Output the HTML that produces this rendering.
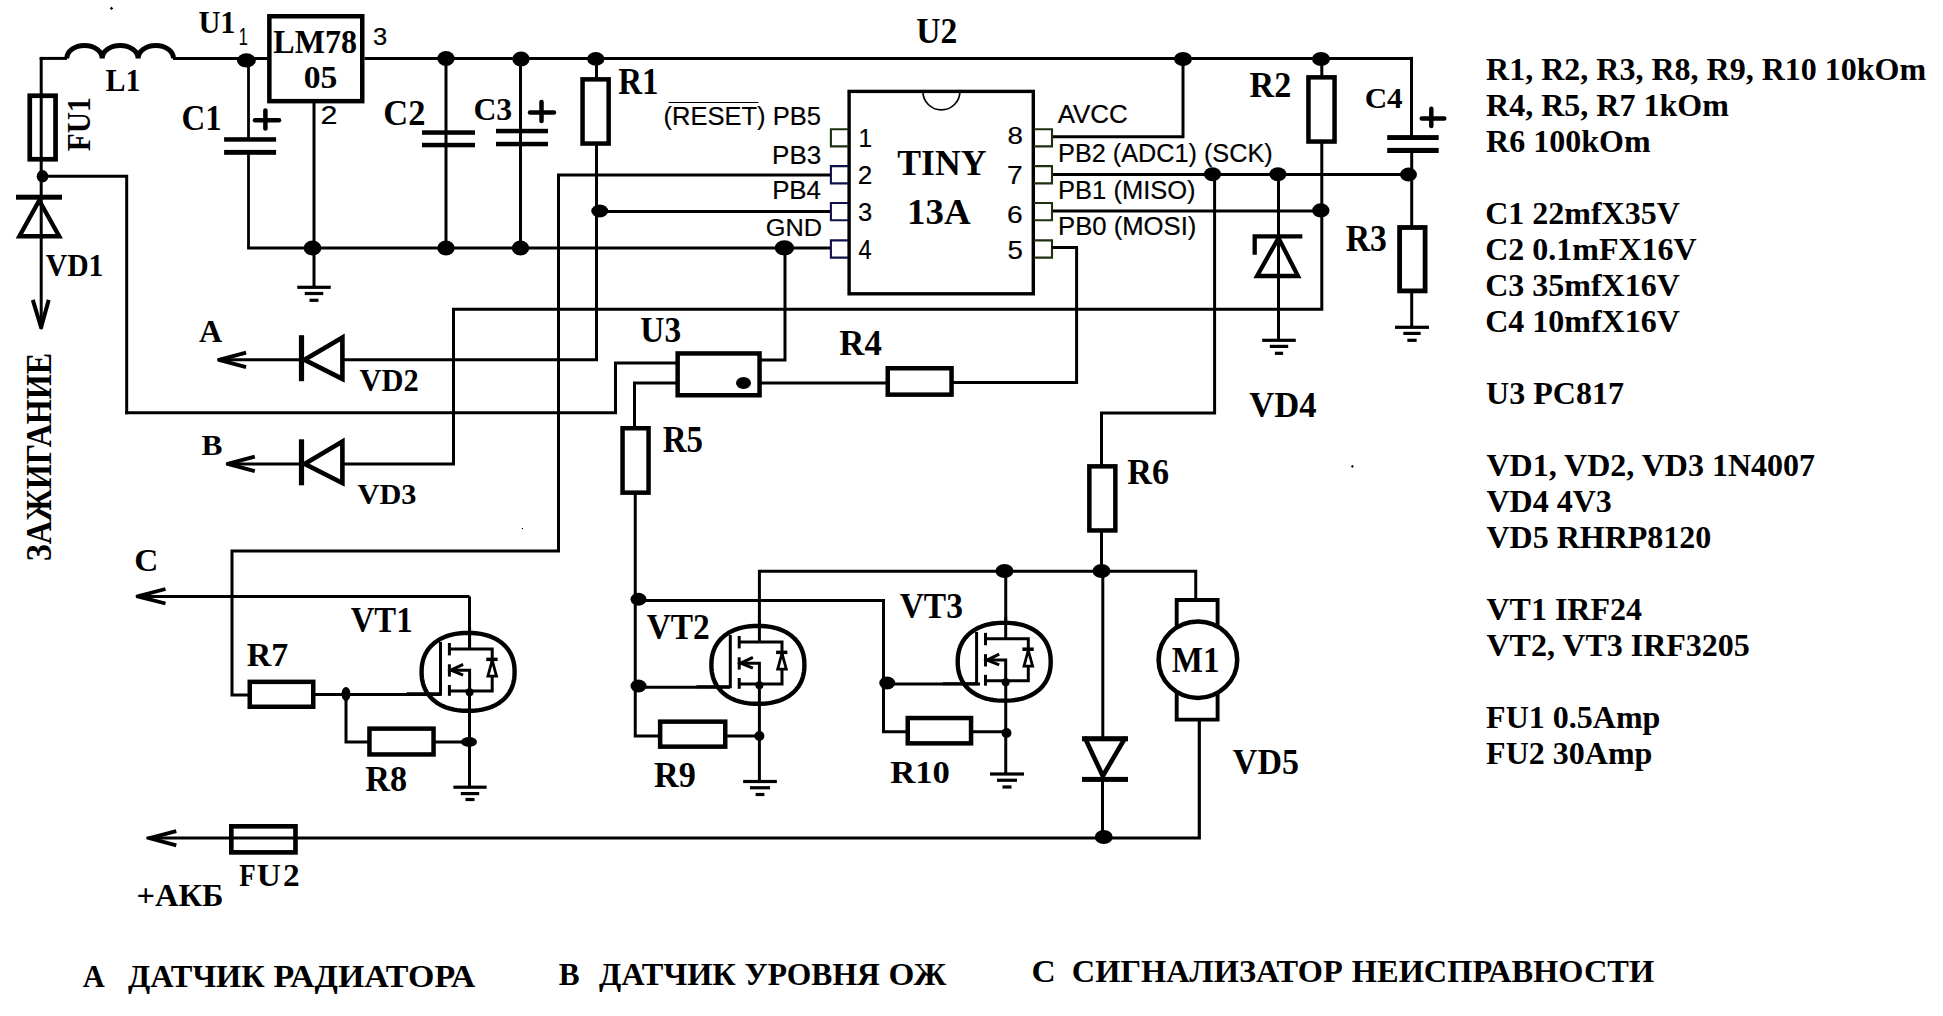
<!DOCTYPE html><html><head><meta charset='utf-8'><style>html,body{margin:0;padding:0;background:#fff;overflow:hidden}svg{display:block}</style></head><body><svg width='1943' height='1016' viewBox='0 0 1943 1016'><rect width='1943' height='1016' fill='#fff'/><line x1='41.2' y1='56.9' x2='41.2' y2='329' stroke='#000' stroke-width='3' stroke-linecap='butt'/>
<line x1='39.7' y1='58.4' x2='67' y2='58.4' stroke='#000' stroke-width='3' stroke-linecap='butt'/>
<path d='M66.75,58.4 A17.7,13 0 0 1 102.2,58.4 A17.95,13 0 0 1 138.1,58.4 A17.7,13 0 0 1 173.5,58.4' fill='none' stroke='#000' stroke-width='5'/>
<line x1='173' y1='58.4' x2='269' y2='58.4' stroke='#000' stroke-width='3' stroke-linecap='butt'/>
<rect x='29.75' y='95.75' width='25.8' height='63.499999999999986' fill='none' stroke='#000' stroke-width='4.7'/>
<ellipse cx='42.5' cy='176.3' rx='5.8' ry='6.2' fill='#000'/>
<polyline points='41,176.3 126.7,176.3 126.7,412.75' fill='none' stroke='#000' stroke-width='3' stroke-linejoin='miter' stroke-linecap='square'/>
<rect x='16' y='194.7' width='46' height='5.0' fill='#000'/>
<polygon points='39.2,200.5 19.4,236.3 59.2,236.3' fill='none' stroke='#000' stroke-width='4.4' stroke-linejoin='miter' stroke-miterlimit='10'/>
<polyline points='32.8,299.9 41.1,327.5 48.7,299.9' fill='none' stroke='#000' stroke-width='4' stroke-linejoin='round' stroke-linecap='butt'/>
<rect x='269.35' y='16.25' width='92.89999999999998' height='84.9' fill='none' stroke='#000' stroke-width='4.5'/>
<line x1='364.5' y1='58.4' x2='1411.5' y2='58.4' stroke='#000' stroke-width='3' stroke-linecap='butt'/>
<ellipse cx='246.4' cy='60.4' rx='9.4' ry='7.1' fill='#000'/>
<line x1='248.5' y1='58.4' x2='248.5' y2='139.5' stroke='#000' stroke-width='2.8' stroke-linecap='butt'/>
<rect x='224.1' y='137.2' width='52.00000000000003' height='4.5' fill='#000'/>
<rect x='224.1' y='149.9' width='52.00000000000003' height='4.900000000000006' fill='#000'/>
<line x1='248.5' y1='152' x2='248.5' y2='247.8' stroke='#000' stroke-width='2.8' stroke-linecap='butt'/>
<line x1='247.1' y1='248' x2='830' y2='248' stroke='#000' stroke-width='3' stroke-linecap='butt'/>
<line x1='255' y1='120.3' x2='279' y2='120.3' stroke='#000' stroke-width='4.5' stroke-linecap='round'/>
<line x1='265.4' y1='110.5' x2='265.4' y2='128.5' stroke='#000' stroke-width='4.5' stroke-linecap='round'/>
<line x1='314' y1='103' x2='314' y2='286.5' stroke='#000' stroke-width='3' stroke-linecap='butt'/>
<ellipse cx='312.5' cy='248' rx='8.9' ry='7.5' fill='#000'/>
<rect x='297.25' y='285.7' width='33.5' height='3.2000000000000455' fill='#000'/>
<rect x='304.75' y='291.9' width='18.5' height='3.2000000000000455' fill='#000'/>
<rect x='309.5' y='298.7' width='9.0' height='3.2000000000000455' fill='#000'/>
<ellipse cx='446' cy='58.5' rx='8.7' ry='7.5' fill='#000'/>
<line x1='446' y1='58.4' x2='446' y2='247.8' stroke='#000' stroke-width='3' stroke-linecap='butt'/>
<rect x='422' y='130.3' width='53' height='4.5' fill='#000'/>
<rect x='422' y='142.8' width='53' height='4.5' fill='#000'/>
<ellipse cx='446' cy='248' rx='8.7' ry='7.5' fill='#000'/>
<ellipse cx='521' cy='59' rx='8.7' ry='7.5' fill='#000'/>
<line x1='520.5' y1='58.4' x2='520.5' y2='247.8' stroke='#000' stroke-width='3' stroke-linecap='butt'/>
<rect x='496' y='128.8' width='52' height='4.5' fill='#000'/>
<rect x='496' y='141.8' width='52' height='4.5' fill='#000'/>
<ellipse cx='520.5' cy='248' rx='8.7' ry='7.5' fill='#000'/>
<line x1='530' y1='112.5' x2='554' y2='112.5' stroke='#000' stroke-width='4.5' stroke-linecap='round'/>
<line x1='541.5' y1='102' x2='541.5' y2='121' stroke='#000' stroke-width='4.5' stroke-linecap='round'/>
<ellipse cx='595.8' cy='58.9' rx='8.65' ry='6.85' fill='#000'/>
<line x1='596.5' y1='58.4' x2='596.5' y2='78' stroke='#000' stroke-width='3' stroke-linecap='butt'/>
<rect x='582.55' y='79.35' width='26.100000000000023' height='64.20000000000002' fill='none' stroke='#000' stroke-width='4.5'/>
<polyline points='596.5,145 596.5,359.8 342.5,359.8' fill='none' stroke='#000' stroke-width='3' stroke-linejoin='miter' stroke-linecap='square'/>
<ellipse cx='599.75' cy='211' rx='8.5' ry='6.5' fill='#000'/>
<line x1='596.5' y1='211.5' x2='830' y2='211.5' stroke='#000' stroke-width='3' stroke-linecap='butt'/>
<polyline points='830,175.1 558.5,175.1 558.5,551 232,551 232,695 248,695' fill='none' stroke='#000' stroke-width='3' stroke-linejoin='miter' stroke-linecap='square'/>
<ellipse cx='784.4' cy='247.8' rx='9.7' ry='7.6' fill='#000'/>
<polyline points='785,247.8 785,360 761,360' fill='none' stroke='#000' stroke-width='3' stroke-linejoin='miter' stroke-linecap='square'/>
<rect x='849.1' y='91.4' width='184.2' height='202.4' fill='none' stroke='#000' stroke-width='3.4'/>
<path d='M922.9,91.4 A18.4,18.4 0 0 0 959.9,91.4' fill='none' stroke='#000' stroke-width='1.7'/>
<polyline points='847.5,129.20000000000002 830.9,129.20000000000002 830.9,146.4 847.5,146.4' fill='none' stroke='#1c3010' stroke-width='2.1' stroke-linejoin='miter' stroke-linecap='square'/>
<polyline points='1035,129.20000000000002 1052,129.20000000000002 1052,146.4 1035,146.4' fill='none' stroke='#1c3010' stroke-width='2.1' stroke-linejoin='miter' stroke-linecap='square'/>
<polyline points='847.5,166.15 830.9,166.15 830.9,183.35 847.5,183.35' fill='none' stroke='#10104a' stroke-width='2.1' stroke-linejoin='miter' stroke-linecap='square'/>
<polyline points='1035,166.15 1052,166.15 1052,183.35 1035,183.35' fill='none' stroke='#1c3010' stroke-width='2.1' stroke-linejoin='miter' stroke-linecap='square'/>
<polyline points='847.5,203.0 830.9,203.0 830.9,220.2 847.5,220.2' fill='none' stroke='#10104a' stroke-width='2.1' stroke-linejoin='miter' stroke-linecap='square'/>
<polyline points='1035,203.0 1052,203.0 1052,220.2 1035,220.2' fill='none' stroke='#1c3010' stroke-width='2.1' stroke-linejoin='miter' stroke-linecap='square'/>
<polyline points='847.5,240.4 830.9,240.4 830.9,257.6 847.5,257.6' fill='none' stroke='#10104a' stroke-width='2.1' stroke-linejoin='miter' stroke-linecap='square'/>
<polyline points='1035,240.4 1052,240.4 1052,257.6 1035,257.6' fill='none' stroke='#1c3010' stroke-width='2.1' stroke-linejoin='miter' stroke-linecap='square'/>
<line x1='1053' y1='136.7' x2='1183' y2='136.7' stroke='#000' stroke-width='3' stroke-linecap='butt'/>
<line x1='1183' y1='58.4' x2='1183' y2='138.2' stroke='#000' stroke-width='3' stroke-linecap='butt'/>
<ellipse cx='1183' cy='59' rx='9' ry='7' fill='#000'/>
<ellipse cx='1321' cy='59' rx='9' ry='7' fill='#000'/>
<line x1='1321.8' y1='58.4' x2='1321.8' y2='76' stroke='#000' stroke-width='3' stroke-linecap='butt'/>
<rect x='1308.45' y='77.35' width='26.09999999999991' height='64.20000000000002' fill='none' stroke='#000' stroke-width='4.5'/>
<polyline points='1321.8,142 1321.8,309.2 453.5,309.2 453.5,463.9 342.5,463.9' fill='none' stroke='#000' stroke-width='3' stroke-linejoin='miter' stroke-linecap='square'/>
<ellipse cx='1320.8' cy='210.4' rx='8.7' ry='7.1' fill='#000'/>
<line x1='1053' y1='211.1' x2='1321.8' y2='211.1' stroke='#000' stroke-width='3' stroke-linecap='butt'/>
<line x1='1053' y1='174.6' x2='1411.7' y2='174.6' stroke='#000' stroke-width='3' stroke-linecap='butt'/>
<ellipse cx='1212.5' cy='174.2' rx='8.5' ry='7' fill='#000'/>
<ellipse cx='1277.9' cy='174.2' rx='8.5' ry='7' fill='#000'/>
<ellipse cx='1408.5' cy='174.6' rx='8.5' ry='7' fill='#000'/>
<polyline points='1214.6,174.4 1214.6,413.1 1101.5,413.1 1101.5,465' fill='none' stroke='#000' stroke-width='3' stroke-linejoin='miter' stroke-linecap='square'/>
<line x1='1278.5' y1='174.4' x2='1278.5' y2='340.3' stroke='#000' stroke-width='3' stroke-linecap='butt'/>
<polyline points='1254.7,252.6 1254.7,236.4 1300.2,236.4' fill='none' stroke='#000' stroke-width='4.3' stroke-linejoin='miter' stroke-linecap='square'/>
<polygon points='1278.5,238 1257,276 1298,276' fill='none' stroke='#000' stroke-width='4.3' stroke-linejoin='miter' stroke-linecap='square'/>
<rect x='1262.2' y='338.7' width='33.59999999999991' height='3.2000000000000455' fill='#000'/>
<rect x='1269.8' y='344.79999999999995' width='18.40000000000009' height='3.2000000000000455' fill='#000'/>
<rect x='1274.9' y='351.7' width='8.199999999999818' height='3.2000000000000455' fill='#000'/>
<line x1='1411.5' y1='56.9' x2='1411.5' y2='137' stroke='#000' stroke-width='3' stroke-linecap='butt'/>
<rect x='1387.2' y='135.1' width='51.5' height='4.900000000000006' fill='#000'/>
<rect x='1387.2' y='147.9' width='51.5' height='5.099999999999994' fill='#000'/>
<line x1='1411.7' y1='150' x2='1411.7' y2='226' stroke='#000' stroke-width='3' stroke-linecap='butt'/>
<line x1='1421.8' y1='118.5' x2='1444.3' y2='118.5' stroke='#000' stroke-width='4.5' stroke-linecap='round'/>
<line x1='1431.3' y1='108.8' x2='1431.3' y2='125.9' stroke='#000' stroke-width='4.5' stroke-linecap='round'/>
<rect x='1399.6000000000001' y='227.5' width='25.499999999999954' height='63.40000000000002' fill='none' stroke='#000' stroke-width='4.8'/>
<line x1='1411.7' y1='293' x2='1411.7' y2='327.3' stroke='#000' stroke-width='3' stroke-linecap='butt'/>
<rect x='1395.0' y='325.7' width='34.0' height='3.2000000000000455' fill='#000'/>
<rect x='1403.3' y='331.79999999999995' width='17.40000000000009' height='3.2000000000000455' fill='#000'/>
<rect x='1407.35' y='338.7' width='9.300000000000182' height='3.2000000000000455' fill='#000'/>
<polyline points='1053,247.4 1076.6,247.4 1076.6,382.5 953,382.5' fill='none' stroke='#000' stroke-width='3' stroke-linejoin='miter' stroke-linecap='square'/>
<rect x='887.75' y='368.25' width='63.799999999999955' height='26.399999999999977' fill='none' stroke='#000' stroke-width='4.5'/>
<line x1='886' y1='383' x2='761' y2='383' stroke='#000' stroke-width='3' stroke-linecap='butt'/>
<rect x='677.65' y='353.45' width='81.89999999999998' height='41.80000000000001' fill='none' stroke='#000' stroke-width='4.5'/>
<ellipse cx='743.5' cy='383' rx='7.5' ry='6' fill='#000'/>
<polyline points='676,363 615.5,363 615.5,412.75 126.7,412.75' fill='none' stroke='#000' stroke-width='3' stroke-linejoin='miter' stroke-linecap='square'/>
<polyline points='676,383 634.5,383 634.5,427' fill='none' stroke='#000' stroke-width='3' stroke-linejoin='miter' stroke-linecap='square'/>
<rect x='622.55' y='428.25' width='26.0' height='64.39999999999998' fill='none' stroke='#000' stroke-width='4.5'/>
<polyline points='635.25,493 635.25,736 658.5,736' fill='none' stroke='#000' stroke-width='3' stroke-linejoin='miter' stroke-linecap='square'/>
<rect x='660.15' y='721.65' width='65.10000000000002' height='25.0' fill='none' stroke='#000' stroke-width='4.5'/>
<line x1='727' y1='736' x2='760' y2='736' stroke='#000' stroke-width='3' stroke-linecap='butt'/>
<ellipse cx='638.5' cy='599.25' rx='8' ry='6.5' fill='#000'/>
<ellipse cx='638.5' cy='686' rx='8' ry='6.5' fill='#000'/>
<polyline points='635.25,600.5 883.5,600.5 883.5,731.75 906,731.75' fill='none' stroke='#000' stroke-width='3' stroke-linejoin='miter' stroke-linecap='square'/>
<line x1='635.25' y1='687.3' x2='730' y2='687.3' stroke='#000' stroke-width='3' stroke-linecap='butt'/>
<ellipse cx='887.25' cy='683' rx='8' ry='6.5' fill='#000'/>
<line x1='887.25' y1='684' x2='980' y2='684' stroke='#000' stroke-width='3' stroke-linecap='butt'/>
<line x1='217.9' y1='359.8' x2='301' y2='359.8' stroke='#000' stroke-width='3' stroke-linecap='butt'/>
<rect x='298.9' y='335.2' width='5.2000000000000455' height='46.0' fill='#000'/>
<polygon points='304.5,359.8 342.4,337.5 342.4,378.90000000000003' fill='none' stroke='#000' stroke-width='4.6' stroke-linejoin='miter' stroke-miterlimit='10'/>
<polyline points='246.1,352.6 218.9,359.8 246.1,367.1' fill='none' stroke='#000' stroke-width='3.8' stroke-linejoin='round' stroke-linecap='butt'/>
<line x1='226.6' y1='463.9' x2='301' y2='463.9' stroke='#000' stroke-width='3' stroke-linecap='butt'/>
<rect x='298.9' y='439.29999999999995' width='5.2000000000000455' height='46.0' fill='#000'/>
<polygon points='304.5,463.9 342.4,441.59999999999997 342.4,483.0' fill='none' stroke='#000' stroke-width='4.6' stroke-linejoin='miter' stroke-miterlimit='10'/>
<polyline points='254.79999999999998,456.7 227.6,463.9 254.79999999999998,471.2' fill='none' stroke='#000' stroke-width='3.8' stroke-linejoin='round' stroke-linecap='butt'/>
<polygon points='514.60,671.90 514.51,675.34 514.25,678.27 513.80,681.00 513.19,683.60 512.40,686.08 511.44,688.46 510.31,690.74 509.02,692.91 507.56,694.97 505.95,696.92 504.19,698.76 502.27,700.49 500.21,702.09 498.01,703.57 495.68,704.91 493.21,706.13 490.62,707.21 487.90,708.16 485.06,708.96 482.09,709.62 478.98,710.13 475.71,710.50 472.22,710.73 468.10,710.80 463.98,710.73 460.49,710.50 457.22,710.13 454.11,709.62 451.14,708.96 448.30,708.16 445.58,707.21 442.99,706.13 440.52,704.91 438.19,703.57 435.99,702.09 433.93,700.49 432.01,698.76 430.25,696.92 428.64,694.97 427.18,692.91 425.89,690.74 424.76,688.46 423.80,686.08 423.01,683.60 422.40,681.00 421.95,678.27 421.69,675.34 421.60,671.90 421.69,668.46 421.95,665.53 422.40,662.80 423.01,660.20 423.80,657.72 424.76,655.34 425.89,653.06 427.18,650.89 428.64,648.83 430.25,646.88 432.01,645.04 433.93,643.31 435.99,641.71 438.19,640.23 440.52,638.89 442.99,637.67 445.58,636.59 448.30,635.64 451.14,634.84 454.11,634.18 457.22,633.67 460.49,633.30 463.98,633.07 468.10,633.00 472.22,633.07 475.71,633.30 478.98,633.67 482.09,634.18 485.06,634.84 487.90,635.64 490.62,636.59 493.21,637.67 495.68,638.89 498.01,640.23 500.21,641.71 502.27,643.31 504.19,645.04 505.95,646.88 507.56,648.83 509.02,650.89 510.31,653.06 511.44,655.34 512.40,657.72 513.19,660.20 513.80,662.80 514.25,665.53 514.51,668.46' fill='none' stroke='#000' stroke-width='4.4' stroke-linejoin='round'/>
<line x1='469.6' y1='626.9' x2='469.6' y2='649.0' stroke='#000' stroke-width='3' stroke-linecap='butt'/>
<polyline points='450.40000000000003,649.0 492.20000000000005,649.0 492.20000000000005,690.9 450.40000000000003,690.9' fill='none' stroke='#000' stroke-width='3' stroke-linejoin='miter' stroke-linecap='square'/>
<polyline points='440.5,643.6 440.5,693.8 408.1,693.8' fill='none' stroke='#000' stroke-width='3' stroke-linejoin='miter' stroke-linecap='square'/>
<line x1='449.40000000000003' y1='643.0' x2='449.40000000000003' y2='655.4' stroke='#000' stroke-width='3' stroke-linecap='butt'/>
<line x1='449.40000000000003' y1='664.3' x2='449.40000000000003' y2='676.6' stroke='#000' stroke-width='3' stroke-linecap='butt'/>
<line x1='449.40000000000003' y1='685.0' x2='449.40000000000003' y2='695.8' stroke='#000' stroke-width='3' stroke-linecap='butt'/>
<polyline points='450.40000000000003,670.1999999999999 469.6,670.1999999999999 469.6,691.9' fill='none' stroke='#000' stroke-width='3' stroke-linejoin='miter' stroke-linecap='square'/>
<polyline points='463.1,664.3 450.90000000000003,670.1999999999999 463.1,675.1' fill='none' stroke='#000' stroke-width='3' stroke-linecap='butt' stroke-linejoin='miter'/>
<rect x='486.3' y='657.6' width='11.300000000000011' height='3.5' fill='#000'/>
<polygon points='492.20000000000005,660.4 487.90000000000003,676.1999999999999 496.5,676.1999999999999' fill='#fff' stroke='#000' stroke-width='2.8' stroke-linejoin='miter'/>
<ellipse cx='469.6' cy='692.3' rx='4' ry='4' fill='#000'/>
<line x1='137' y1='596.4' x2='469.5' y2='596.4' stroke='#000' stroke-width='3' stroke-linecap='butt'/>
<line x1='469.5' y1='596.4' x2='469.5' y2='650' stroke='#000' stroke-width='3' stroke-linecap='butt'/>
<polyline points='315,694.5 440,694.5' fill='none' stroke='#000' stroke-width='3' stroke-linejoin='miter' stroke-linecap='square'/>
<ellipse cx='346' cy='694' rx='4.5' ry='7' fill='#000'/>
<polyline points='346,694.5 346,742 367.5,742' fill='none' stroke='#000' stroke-width='3' stroke-linejoin='miter' stroke-linecap='square'/>
<rect x='249.75' y='681.85' width='63.5' height='24.899999999999977' fill='none' stroke='#000' stroke-width='4.5'/>
<rect x='369.45' y='728.65' width='64.10000000000002' height='25.800000000000068' fill='none' stroke='#000' stroke-width='4.5'/>
<line x1='435' y1='742' x2='469.5' y2='742' stroke='#000' stroke-width='3' stroke-linecap='butt'/>
<ellipse cx='469' cy='742' rx='8' ry='5' fill='#000'/>
<line x1='469.5' y1='692' x2='469.5' y2='787' stroke='#000' stroke-width='3' stroke-linecap='butt'/>
<rect x='453.4' y='785.6' width='33.200000000000045' height='3.2000000000000455' fill='#000'/>
<rect x='460.8' y='792.0' width='18.399999999999977' height='3.2000000000000455' fill='#000'/>
<rect x='465.5' y='797.9' width='9.0' height='3.2000000000000455' fill='#000'/>
<polyline points='165.5,589 137.5,596.4 165.5,603.5' fill='none' stroke='#000' stroke-width='3.8' stroke-linejoin='round' stroke-linecap='butt'/>
<polygon points='804.40,664.90 804.31,668.34 804.05,671.27 803.60,674.00 802.99,676.60 802.20,679.08 801.24,681.46 800.11,683.74 798.82,685.91 797.36,687.97 795.75,689.92 793.99,691.76 792.07,693.49 790.01,695.09 787.81,696.57 785.48,697.91 783.01,699.13 780.42,700.21 777.70,701.16 774.86,701.96 771.89,702.62 768.78,703.13 765.51,703.50 762.02,703.73 757.90,703.80 753.78,703.73 750.29,703.50 747.02,703.13 743.91,702.62 740.94,701.96 738.10,701.16 735.38,700.21 732.79,699.13 730.32,697.91 727.99,696.57 725.79,695.09 723.73,693.49 721.81,691.76 720.05,689.92 718.44,687.97 716.98,685.91 715.69,683.74 714.56,681.46 713.60,679.08 712.81,676.60 712.20,674.00 711.75,671.27 711.49,668.34 711.40,664.90 711.49,661.46 711.75,658.53 712.20,655.80 712.81,653.20 713.60,650.72 714.56,648.34 715.69,646.06 716.98,643.89 718.44,641.83 720.05,639.88 721.81,638.04 723.73,636.31 725.79,634.71 727.99,633.23 730.32,631.89 732.79,630.67 735.38,629.59 738.10,628.64 740.94,627.84 743.91,627.18 747.02,626.67 750.29,626.30 753.78,626.07 757.90,626.00 762.02,626.07 765.51,626.30 768.78,626.67 771.89,627.18 774.86,627.84 777.70,628.64 780.42,629.59 783.01,630.67 785.48,631.89 787.81,633.23 790.01,634.71 792.07,636.31 793.99,638.04 795.75,639.88 797.36,641.83 798.82,643.89 800.11,646.06 801.24,648.34 802.20,650.72 802.99,653.20 803.60,655.80 804.05,658.53 804.31,661.46' fill='none' stroke='#000' stroke-width='4.4' stroke-linejoin='round'/>
<line x1='759.4' y1='619.9' x2='759.4' y2='642.0' stroke='#000' stroke-width='3' stroke-linecap='butt'/>
<polyline points='740.1999999999999,642.0 782.0,642.0 782.0,683.9 740.1999999999999,683.9' fill='none' stroke='#000' stroke-width='3' stroke-linejoin='miter' stroke-linecap='square'/>
<polyline points='730.3,636.6 730.3,686.8 697.9,686.8' fill='none' stroke='#000' stroke-width='3' stroke-linejoin='miter' stroke-linecap='square'/>
<line x1='739.1999999999999' y1='636.0' x2='739.1999999999999' y2='648.4' stroke='#000' stroke-width='3' stroke-linecap='butt'/>
<line x1='739.1999999999999' y1='657.3' x2='739.1999999999999' y2='669.6' stroke='#000' stroke-width='3' stroke-linecap='butt'/>
<line x1='739.1999999999999' y1='678.0' x2='739.1999999999999' y2='688.8' stroke='#000' stroke-width='3' stroke-linecap='butt'/>
<polyline points='740.1999999999999,663.1999999999999 759.4,663.1999999999999 759.4,684.9' fill='none' stroke='#000' stroke-width='3' stroke-linejoin='miter' stroke-linecap='square'/>
<polyline points='752.9,657.3 740.6999999999999,663.1999999999999 752.9,668.1' fill='none' stroke='#000' stroke-width='3' stroke-linecap='butt' stroke-linejoin='miter'/>
<rect x='776.1' y='650.6' width='11.299999999999955' height='3.5' fill='#000'/>
<polygon points='782.0,653.4 777.6999999999999,669.1999999999999 786.3,669.1999999999999' fill='#fff' stroke='#000' stroke-width='2.8' stroke-linejoin='miter'/>
<ellipse cx='759.4' cy='685.3' rx='4' ry='4' fill='#000'/>
<polyline points='759.4,622 759.4,571.2 1195.75,571.2 1195.75,599' fill='none' stroke='#000' stroke-width='3' stroke-linejoin='miter' stroke-linecap='square'/>
<line x1='759.4' y1='684' x2='759.4' y2='781.5' stroke='#000' stroke-width='3' stroke-linecap='butt'/>
<ellipse cx='759.4' cy='736' rx='5' ry='5' fill='#000'/>
<rect x='743.125' y='779.9' width='33.75' height='3.2000000000000455' fill='#000'/>
<rect x='750.0' y='786.15' width='20.0' height='3.2000000000000455' fill='#000'/>
<rect x='755.625' y='792.9' width='8.75' height='3.2000000000000455' fill='#000'/>
<polygon points='1050.70,661.75 1050.61,665.19 1050.35,668.12 1049.90,670.85 1049.29,673.45 1048.50,675.93 1047.54,678.31 1046.41,680.59 1045.12,682.76 1043.66,684.82 1042.05,686.77 1040.29,688.61 1038.37,690.34 1036.31,691.94 1034.11,693.42 1031.78,694.76 1029.31,695.98 1026.72,697.06 1024.00,698.01 1021.16,698.81 1018.19,699.47 1015.08,699.98 1011.81,700.35 1008.32,700.58 1004.20,700.65 1000.08,700.58 996.59,700.35 993.32,699.98 990.21,699.47 987.24,698.81 984.40,698.01 981.68,697.06 979.09,695.98 976.62,694.76 974.29,693.42 972.09,691.94 970.03,690.34 968.11,688.61 966.35,686.77 964.74,684.82 963.28,682.76 961.99,680.59 960.86,678.31 959.90,675.93 959.11,673.45 958.50,670.85 958.05,668.12 957.79,665.19 957.70,661.75 957.79,658.31 958.05,655.38 958.50,652.65 959.11,650.05 959.90,647.57 960.86,645.19 961.99,642.91 963.28,640.74 964.74,638.68 966.35,636.73 968.11,634.89 970.03,633.16 972.09,631.56 974.29,630.08 976.62,628.74 979.09,627.52 981.68,626.44 984.40,625.49 987.24,624.69 990.21,624.03 993.32,623.52 996.59,623.15 1000.08,622.92 1004.20,622.85 1008.32,622.92 1011.81,623.15 1015.08,623.52 1018.19,624.03 1021.16,624.69 1024.00,625.49 1026.72,626.44 1029.31,627.52 1031.78,628.74 1034.11,630.08 1036.31,631.56 1038.37,633.16 1040.29,634.89 1042.05,636.73 1043.66,638.68 1045.12,640.74 1046.41,642.91 1047.54,645.19 1048.50,647.57 1049.29,650.05 1049.90,652.65 1050.35,655.38 1050.61,658.31' fill='none' stroke='#000' stroke-width='4.4' stroke-linejoin='round'/>
<line x1='1005.7' y1='616.75' x2='1005.7' y2='638.85' stroke='#000' stroke-width='3' stroke-linecap='butt'/>
<polyline points='986.5,638.85 1028.3,638.85 1028.3,680.75 986.5,680.75' fill='none' stroke='#000' stroke-width='3' stroke-linejoin='miter' stroke-linecap='square'/>
<polyline points='976.6,633.45 976.6,683.65 944.2,683.65' fill='none' stroke='#000' stroke-width='3' stroke-linejoin='miter' stroke-linecap='square'/>
<line x1='985.5' y1='632.85' x2='985.5' y2='645.25' stroke='#000' stroke-width='3' stroke-linecap='butt'/>
<line x1='985.5' y1='654.15' x2='985.5' y2='666.45' stroke='#000' stroke-width='3' stroke-linecap='butt'/>
<line x1='985.5' y1='674.85' x2='985.5' y2='685.65' stroke='#000' stroke-width='3' stroke-linecap='butt'/>
<polyline points='986.5,660.05 1005.7,660.05 1005.7,681.75' fill='none' stroke='#000' stroke-width='3' stroke-linejoin='miter' stroke-linecap='square'/>
<polyline points='999.2,654.15 987.0,660.05 999.2,664.95' fill='none' stroke='#000' stroke-width='3' stroke-linecap='butt' stroke-linejoin='miter'/>
<rect x='1022.4000000000001' y='647.45' width='11.299999999999955' height='3.5' fill='#000'/>
<polygon points='1028.3,650.25 1024.0,666.05 1032.6000000000001,666.05' fill='#fff' stroke='#000' stroke-width='2.8' stroke-linejoin='miter'/>
<ellipse cx='1005.7' cy='682.15' rx='4' ry='4' fill='#000'/>
<line x1='1005.75' y1='571' x2='1005.75' y2='622' stroke='#000' stroke-width='3' stroke-linecap='butt'/>
<line x1='1005.75' y1='680' x2='1005.75' y2='774' stroke='#000' stroke-width='3' stroke-linecap='butt'/>
<rect x='907.75' y='718.05' width='63.299999999999955' height='25.300000000000068' fill='none' stroke='#000' stroke-width='4.5'/>
<line x1='972.5' y1='731.75' x2='1006.5' y2='731.75' stroke='#000' stroke-width='3' stroke-linecap='butt'/>
<ellipse cx='1006.5' cy='733' rx='5' ry='5' fill='#000'/>
<rect x='990.0' y='772.4' width='34.0' height='3.2000000000000455' fill='#000'/>
<rect x='997.0' y='778.65' width='20.0' height='3.2000000000000455' fill='#000'/>
<rect x='1002.5' y='785.4' width='9.0' height='3.2000000000000455' fill='#000'/>
<ellipse cx='1004.5' cy='571' rx='9' ry='7' fill='#000'/>
<ellipse cx='1101.5' cy='571' rx='9' ry='7' fill='#000'/>
<rect x='1089.35' y='466.35' width='26.0' height='64.10000000000002' fill='none' stroke='#000' stroke-width='4.5'/>
<line x1='1101.5' y1='531' x2='1101.5' y2='572' stroke='#000' stroke-width='3' stroke-linecap='butt'/>
<line x1='1102.8' y1='571' x2='1102.8' y2='737' stroke='#000' stroke-width='3' stroke-linecap='butt'/>
<rect x='1082' y='736.2' width='46' height='5.099999999999909' fill='#000'/>
<polyline points='1085.5,739 1102.8,776 1124.5,739' fill='none' stroke='#000' stroke-width='4.6' stroke-linejoin='miter' stroke-linecap='square'/>
<rect x='1082' y='776.9' width='46' height='5.0' fill='#000'/>
<line x1='1102.5' y1='780' x2='1102.5' y2='837' stroke='#000' stroke-width='3' stroke-linecap='butt'/>
<ellipse cx='1103.75' cy='837' rx='9' ry='7' fill='#000'/>
<polyline points='1176.7,632 1176.7,600 1217.6,600 1217.6,632' fill='none' stroke='#000' stroke-width='3.9' stroke-linejoin='miter' stroke-linecap='square'/>
<polyline points='1176.7,688 1176.7,719.6 1217.6,719.6 1217.6,688' fill='none' stroke='#000' stroke-width='3.9' stroke-linejoin='miter' stroke-linecap='square'/>
<ellipse cx='1197.9' cy='659.7' rx='39.3' ry='38.2' fill='#fff' stroke='#000' stroke-width='4.5'/>
<polyline points='1199.3,721 1199.3,838 148,838' fill='none' stroke='#000' stroke-width='3.2' stroke-linejoin='miter' stroke-linecap='square'/>
<rect x='231.325' y='826.325' width='64.15' height='26.050000000000047' fill='none' stroke='#000' stroke-width='4.65'/>
<polyline points='176.3,831.2 149.5,838.1 176.3,845.3' fill='none' stroke='#000' stroke-width='3.8' stroke-linejoin='round' stroke-linecap='butt'/>
<text transform='translate(198.39,32.5) scale(0.9964,1)' font-family='Liberation Serif' font-weight='bold' font-size='30.54' xml:space='preserve'>U1</text>
<text transform='translate(238.70,45) scale(0.7000,1)' font-family='Liberation Sans' font-weight='normal' font-size='23.26' stroke='#000' stroke-width='0.2' xml:space='preserve'>1</text>
<text transform='translate(273.36,52.5) scale(0.9755,1)' font-family='Liberation Serif' font-weight='bold' font-size='32.84' xml:space='preserve'>LM78</text>
<text transform='translate(303.65,87.5) scale(1.1032,1)' font-family='Liberation Serif' font-weight='bold' font-size='30.54' xml:space='preserve'>05</text>
<text transform='translate(372.98,45) scale(1.0979,1)' font-family='Liberation Sans' font-weight='normal' font-size='23.26' stroke='#000' stroke-width='0.2' xml:space='preserve'>3</text>
<text transform='translate(320.48,124) scale(1.1633,1)' font-family='Liberation Sans' font-weight='normal' font-size='26.16' stroke='#000' stroke-width='0.2' xml:space='preserve'>2</text>
<text transform='translate(105.50,90.9) scale(0.9490,1)' font-family='Liberation Serif' font-weight='bold' font-size='31.61' xml:space='preserve'>L1</text>
<text transform='translate(181.46,129.8) scale(0.9116,1)' font-family='Liberation Serif' font-weight='bold' font-size='36.04' xml:space='preserve'>C1</text>
<text transform='translate(383.27,125) scale(0.9826,1)' font-family='Liberation Serif' font-weight='bold' font-size='35.13' xml:space='preserve'>C2</text>
<text transform='translate(473.41,119.5) scale(1.0143,1)' font-family='Liberation Serif' font-weight='bold' font-size='31.31' xml:space='preserve'>C3</text>
<text transform='translate(618.24,94.2) scale(0.8917,1)' font-family='Liberation Serif' font-weight='bold' font-size='36.96' xml:space='preserve'>R1</text>
<text transform='translate(916.33,42.5) scale(0.9368,1)' font-family='Liberation Serif' font-weight='bold' font-size='35.89' xml:space='preserve'>U2</text>
<text transform='translate(663.47,125) scale(1.0039,1)' font-family='Liberation Sans' font-weight='normal' font-size='25.44' stroke='#000' stroke-width='0.2' xml:space='preserve'>(RESET) PB5</text>
<text transform='translate(772.12,164.2) scale(1.0217,1)' font-family='Liberation Sans' font-weight='normal' font-size='25.44' stroke='#000' stroke-width='0.2' xml:space='preserve'>PB3</text>
<text transform='translate(772.13,199.1) scale(0.9823,1)' font-family='Liberation Sans' font-weight='normal' font-size='26.31' stroke='#000' stroke-width='0.2' xml:space='preserve'>PB4</text>
<text transform='translate(765.83,236) scale(1.0251,1)' font-family='Liberation Sans' font-weight='normal' font-size='24.71' stroke='#000' stroke-width='0.2' xml:space='preserve'>GND</text>
<text transform='translate(858.55,146.5) scale(0.9600,1)' font-family='Liberation Sans' font-weight='normal' font-size='25.44' stroke='#000' stroke-width='0.2' xml:space='preserve'>1</text>
<text transform='translate(857.70,183.7) scale(1.0197,1)' font-family='Liberation Sans' font-weight='normal' font-size='25.58' stroke='#000' stroke-width='0.2' xml:space='preserve'>2</text>
<text transform='translate(857.98,220.8) scale(1.0095,1)' font-family='Liberation Sans' font-weight='normal' font-size='25.29' stroke='#000' stroke-width='0.2' xml:space='preserve'>3</text>
<text transform='translate(858.53,258.7) scale(0.8798,1)' font-family='Liberation Sans' font-weight='normal' font-size='26.74' stroke='#000' stroke-width='0.2' xml:space='preserve'>4</text>
<text transform='translate(1007.39,143.7) scale(1.1327,1)' font-family='Liberation Sans' font-weight='normal' font-size='24.42' stroke='#000' stroke-width='0.2' xml:space='preserve'>8</text>
<text transform='translate(1007.09,184.3) scale(1.0923,1)' font-family='Liberation Sans' font-weight='normal' font-size='25.87' stroke='#000' stroke-width='0.2' xml:space='preserve'>7</text>
<text transform='translate(1007.09,222.5) scale(1.1370,1)' font-family='Liberation Sans' font-weight='normal' font-size='24.86' stroke='#000' stroke-width='0.2' xml:space='preserve'>6</text>
<text transform='translate(1007.39,258.7) scale(1.0751,1)' font-family='Liberation Sans' font-weight='normal' font-size='25.73' stroke='#000' stroke-width='0.2' xml:space='preserve'>5</text>
<text transform='translate(897.29,175.3) scale(0.9819,1)' font-family='Liberation Serif' font-weight='bold' font-size='36.35' xml:space='preserve'>TINY</text>
<text transform='translate(907.04,224) scale(1.0166,1)' font-family='Liberation Serif' font-weight='bold' font-size='36.35' xml:space='preserve'>13A</text>
<text transform='translate(1057.70,123.4) scale(1.0026,1)' font-family='Liberation Sans' font-weight='normal' font-size='25.87' stroke='#000' stroke-width='0.2' xml:space='preserve'>AVCC</text>
<text transform='translate(1058.08,161.5) scale(0.9760,1)' font-family='Liberation Sans' font-weight='normal' font-size='25.87' stroke='#000' stroke-width='0.2' xml:space='preserve'>PB2 (ADC1) (SCK)</text>
<text transform='translate(1058.06,199) scale(0.9810,1)' font-family='Liberation Sans' font-weight='normal' font-size='26.02' stroke='#000' stroke-width='0.2' xml:space='preserve'>PB1 (MISO)</text>
<text transform='translate(1058.05,234.8) scale(1.0263,1)' font-family='Liberation Sans' font-weight='normal' font-size='25.00' stroke='#000' stroke-width='0.2' xml:space='preserve'>PB0 (MOSI)</text>
<text transform='translate(1249.52,97) scale(0.9392,1)' font-family='Liberation Serif' font-weight='bold' font-size='36.35' xml:space='preserve'>R2</text>
<text transform='translate(1364.65,107.5) scale(1.0424,1)' font-family='Liberation Serif' font-weight='bold' font-size='29.78' xml:space='preserve'>C4</text>
<text transform='translate(1345.63,250.9) scale(0.9074,1)' font-family='Liberation Serif' font-weight='bold' font-size='37.11' xml:space='preserve'>R3</text>
<text transform='translate(45.70,276) scale(0.9591,1)' font-family='Liberation Serif' font-weight='bold' font-size='31.00' xml:space='preserve'>VD1</text>
<text transform='translate(198.98,342.2) scale(1.0158,1)' font-family='Liberation Serif' font-weight='bold' font-size='31.61' xml:space='preserve'>A</text>
<text transform='translate(359.50,391) scale(0.9486,1)' font-family='Liberation Serif' font-weight='bold' font-size='32.07' xml:space='preserve'>VD2</text>
<text transform='translate(201.57,455.3) scale(1.0670,1)' font-family='Liberation Serif' font-weight='bold' font-size='29.48' xml:space='preserve'>B</text>
<text transform='translate(357.60,503.5) scale(0.9975,1)' font-family='Liberation Serif' font-weight='bold' font-size='30.39' xml:space='preserve'>VD3</text>
<text transform='translate(640.33,341.5) scale(0.9288,1)' font-family='Liberation Serif' font-weight='bold' font-size='35.89' xml:space='preserve'>U3</text>
<text transform='translate(839.31,355) scale(0.9681,1)' font-family='Liberation Serif' font-weight='bold' font-size='35.89' xml:space='preserve'>R4</text>
<text transform='translate(662.84,451.5) scale(0.8619,1)' font-family='Liberation Serif' font-weight='bold' font-size='38.18' xml:space='preserve'>R5</text>
<text transform='translate(1249.15,416.5) scale(0.9651,1)' font-family='Liberation Serif' font-weight='bold' font-size='35.89' xml:space='preserve'>VD4</text>
<text transform='translate(1127.32,484) scale(0.9733,1)' font-family='Liberation Serif' font-weight='bold' font-size='35.13' xml:space='preserve'>R6</text>
<text transform='translate(134.33,570.5) scale(1.0913,1)' font-family='Liberation Serif' font-weight='bold' font-size='30.54' xml:space='preserve'>C</text>
<text transform='translate(350.67,632) scale(0.8945,1)' font-family='Liberation Serif' font-weight='bold' font-size='36.65' xml:space='preserve'>VT1</text>
<text transform='translate(246.82,665.5) scale(0.9865,1)' font-family='Liberation Serif' font-weight='bold' font-size='34.36' xml:space='preserve'>R7</text>
<text transform='translate(646.67,639.25) scale(0.9215,1)' font-family='Liberation Serif' font-weight='bold' font-size='36.27' xml:space='preserve'>VT2</text>
<text transform='translate(899.66,618) scale(0.9143,1)' font-family='Liberation Serif' font-weight='bold' font-size='36.65' xml:space='preserve'>VT3</text>
<text transform='translate(1171.74,672) scale(0.9233,1)' font-family='Liberation Serif' font-weight='bold' font-size='35.89' xml:space='preserve'>M1</text>
<text transform='translate(1232.86,774) scale(0.9514,1)' font-family='Liberation Serif' font-weight='bold' font-size='35.74' xml:space='preserve'>VD5</text>
<text transform='translate(365.32,791) scale(0.9733,1)' font-family='Liberation Serif' font-weight='bold' font-size='35.13' xml:space='preserve'>R8</text>
<text transform='translate(654.07,786.7) scale(0.9649,1)' font-family='Liberation Serif' font-weight='bold' font-size='35.43' xml:space='preserve'>R9</text>
<text transform='translate(890.31,783) scale(1.0800,1)' font-family='Liberation Serif' font-weight='bold' font-size='32.07' xml:space='preserve'>R10</text>
<text transform='translate(239.36,886) scale(0.8494,1)' font-family='Liberation Serif' font-weight='bold' font-size='31.61' xml:space='preserve'>F</text>
<text transform='translate(256.83,886) scale(1.0560,1)' font-family='Liberation Serif' font-weight='bold' font-size='31.61' xml:space='preserve'>U</text>
<text transform='translate(282.97,886) scale(1.0544,1)' font-family='Liberation Serif' font-weight='bold' font-size='31.61' xml:space='preserve'>2</text>
<text transform='translate(136.48,905.6) scale(1.0568,1)' font-family='Liberation Serif' font-weight='bold' font-size='30.70' xml:space='preserve'>+АКБ</text>
<text transform='translate(82.70,986.5) scale(0.9486,1)' font-family='Liberation Serif' font-weight='bold' font-size='32.07' xml:space='preserve'>А</text>
<text transform='translate(128.08,986.5) scale(1.0087,1)' font-family='Liberation Serif' font-weight='bold' font-size='32.07' xml:space='preserve'>ДАТЧИК</text>
<text transform='translate(273.62,986.5) scale(1.0587,1)' font-family='Liberation Serif' font-weight='bold' font-size='32.07' xml:space='preserve'>РАДИАТОРА</text>
<text transform='translate(558.87,985) scale(0.9850,1)' font-family='Liberation Serif' font-weight='bold' font-size='31.77' xml:space='preserve'>В</text>
<text transform='translate(599.08,985) scale(1.0184,1)' font-family='Liberation Serif' font-weight='bold' font-size='31.77' xml:space='preserve'>ДАТЧИК</text>
<text transform='translate(744.45,985) scale(0.9949,1)' font-family='Liberation Serif' font-weight='bold' font-size='31.77' xml:space='preserve'>УРОВНЯ</text>
<text transform='translate(888.54,985) scale(1.0469,1)' font-family='Liberation Serif' font-weight='bold' font-size='31.77' xml:space='preserve'>ОЖ</text>
<text transform='translate(1031.42,981.8) scale(1.0700,1)' font-family='Liberation Serif' font-weight='bold' font-size='31.31' xml:space='preserve'>С</text>
<text transform='translate(1071.78,981.8) scale(1.0349,1)' font-family='Liberation Serif' font-weight='bold' font-size='31.31' xml:space='preserve'>СИГНАЛИЗАТОР</text>
<text transform='translate(1351.85,981.8) scale(1.0349,1)' font-family='Liberation Serif' font-weight='bold' font-size='31.31' xml:space='preserve'>НЕИСПРАВНОСТИ</text>
<text transform='translate(90,151.19) rotate(-90) scale(0.8823,1)' font-family='Liberation Serif' font-weight='bold' font-size='33.29' xml:space='preserve'>FU1</text>
<text transform='translate(50.8,561.31) rotate(-90) scale(0.9038,1)' font-family='Liberation Serif' font-weight='bold' font-size='35.58' xml:space='preserve'>ЗАЖИГАНИЕ</text>
<text x='1486.11' y='80' font-family='Liberation Serif' font-weight='bold' font-size='32' xml:space='preserve'>R1, R2, R3, R8, R9, R10 10kOm</text>
<text x='1486.11' y='116' font-family='Liberation Serif' font-weight='bold' font-size='32' xml:space='preserve'>R4, R5, R7 1kOm</text>
<text x='1486.11' y='152' font-family='Liberation Serif' font-weight='bold' font-size='32' xml:space='preserve'>R6 100kOm</text>
<text x='1485.15' y='224' font-family='Liberation Serif' font-weight='bold' font-size='32' xml:space='preserve'>C1 22mfX35V</text>
<text x='1485.15' y='260' font-family='Liberation Serif' font-weight='bold' font-size='32' xml:space='preserve'>C2 0.1mFX16V</text>
<text x='1485.15' y='296' font-family='Liberation Serif' font-weight='bold' font-size='32' xml:space='preserve'>C3 35mfX16V</text>
<text x='1485.15' y='332' font-family='Liberation Serif' font-weight='bold' font-size='32' xml:space='preserve'>C4 10mfX16V</text>
<text x='1486.11' y='404' font-family='Liberation Serif' font-weight='bold' font-size='32' xml:space='preserve'>U3 PC817</text>
<text x='1486.43' y='476' font-family='Liberation Serif' font-weight='bold' font-size='32' xml:space='preserve'>VD1, VD2, VD3 1N4007</text>
<text x='1486.43' y='512' font-family='Liberation Serif' font-weight='bold' font-size='32' xml:space='preserve'>VD4 4V3</text>
<text x='1486.43' y='548' font-family='Liberation Serif' font-weight='bold' font-size='32' xml:space='preserve'>VD5 RHRP8120</text>
<text x='1486.43' y='620' font-family='Liberation Serif' font-weight='bold' font-size='32' xml:space='preserve'>VT1 IRF24</text>
<text x='1486.43' y='656' font-family='Liberation Serif' font-weight='bold' font-size='32' xml:space='preserve'>VT2, VT3 IRF3205</text>
<text x='1486.11' y='728' font-family='Liberation Serif' font-weight='bold' font-size='32' xml:space='preserve'>FU1 0.5Amp</text>
<text x='1486.11' y='764' font-family='Liberation Serif' font-weight='bold' font-size='32' xml:space='preserve'>FU2 30Amp</text>
<rect x='110.0' y='7.800000000000001' width='3.0' height='1.1999999999999993' fill='#000'/>
<rect x='110.9' y='6.9' width='1.1999999999999886' height='3.0' fill='#000'/>
<rect x='1351.2' y='465.79999999999995' width='2.400000000000091' height='1.2000000000000455' fill='#000'/>
<rect x='1351.8000000000002' y='465.2' width='1.199999999999818' height='2.3999999999999773' fill='#000'/>
<rect x='521.8' y='527.9' width='1.2000000000000455' height='1.2000000000000455' fill='#000'/>
<line x1='668.5' y1='102.5' x2='758.5' y2='102.5' stroke='#000' stroke-width='1.2' stroke-linecap='butt'/></svg></body></html>
